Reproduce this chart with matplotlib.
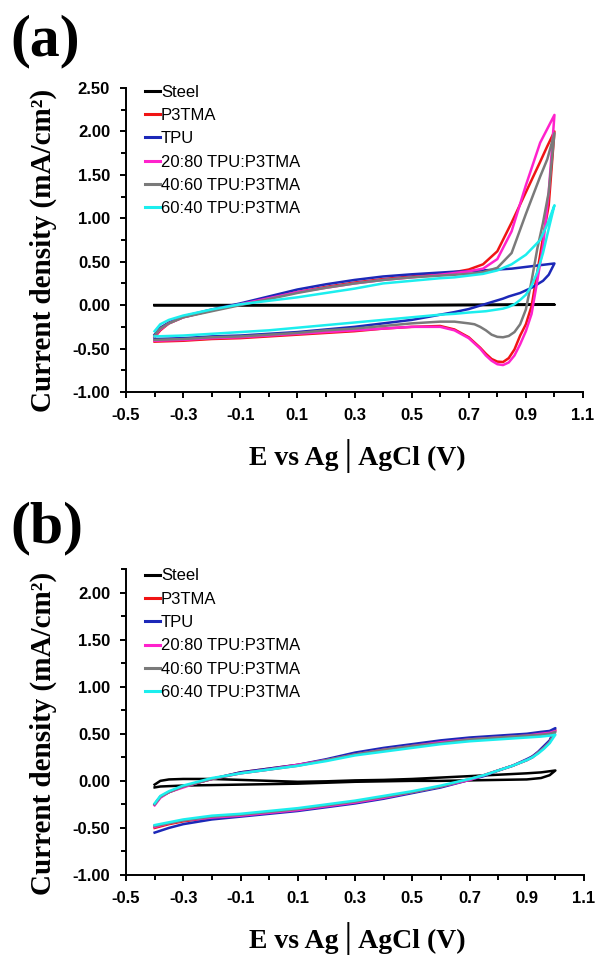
import matplotlib
matplotlib.use('Agg')
import matplotlib.pyplot as plt
from matplotlib.ticker import MultipleLocator, FormatStrFormatter

plt.rcParams['axes.unicode_minus'] = False

# ---------------- data ----------------
# panel (a): potential grid of the anodic (fwd) and cathodic (rev) sweeps, V
e_fwd_a = [-0.40, -0.38, -0.35, -0.30, -0.20, -0.10, 0.00, 0.10, 0.20, 0.30, 0.40,
           0.50, 0.60, 0.65, 0.70, 0.75, 0.80, 0.85, 0.90, 0.95, 0.975, 1.00]
e_rev_a = [1.00, 0.98, 0.96, 0.94, 0.92, 0.90, 0.88, 0.86, 0.84, 0.82, 0.80, 0.78,
           0.76, 0.74, 0.72, 0.70, 0.65, 0.60, 0.50, 0.40, 0.30, 0.20, 0.10, 0.00,
           -0.10, -0.20, -0.30, -0.40]

steel_e_a = [-0.40, 0.00, 0.50, 1.00, 0.50, 0.00, -0.40]
steel_j_a = [0.00, 0.00, 0.00, 0.005, 0.00, 0.00, 0.00]

p3tma_fwd_a = [-0.37, -0.29, -0.21, -0.14, -0.06, 0.01, 0.08, 0.15, 0.21, 0.26, 0.30,
               0.33, 0.36, 0.38, 0.41, 0.47, 0.62, 0.95, 1.30, 1.65, 1.83, 2.00]
p3tma_rev_a = [2.00, 1.15, 0.78, 0.38, -0.01, -0.22, -0.35, -0.51, -0.61, -0.655, -0.65,
               -0.62, -0.56, -0.49, -0.43, -0.37, -0.28, -0.24, -0.25, -0.27, -0.30,
               -0.32, -0.34, -0.36, -0.38, -0.39, -0.41, -0.42]

tpu_fwd_a = [-0.34, -0.26, -0.20, -0.13, -0.05, 0.02, 0.10, 0.18, 0.24, 0.29, 0.33,
             0.355, 0.375, 0.385, 0.39, 0.40, 0.41, 0.42, 0.44, 0.46, 0.47, 0.48]
tpu_rev_a = [0.48, 0.35, 0.28, 0.24, 0.20, 0.17, 0.14, 0.12, 0.10, 0.075, 0.055, 0.035,
             0.015, -0.005, -0.025, -0.045, -0.08, -0.11, -0.17, -0.21, -0.25, -0.28,
             -0.31, -0.33, -0.35, -0.36, -0.38, -0.39]

b2080_fwd_a = [-0.36, -0.28, -0.21, -0.14, -0.06, 0.01, 0.08, 0.15, 0.20, 0.25, 0.29,
               0.32, 0.35, 0.37, 0.39, 0.42, 0.53, 0.85, 1.38, 1.87, 2.03, 2.19]
b2080_rev_a = [2.19, 1.30, 0.68, 0.28, -0.10, -0.30, -0.45, -0.58, -0.66, -0.69, -0.68,
               -0.64, -0.58, -0.50, -0.44, -0.38, -0.29, -0.25, -0.25, -0.27, -0.29,
               -0.31, -0.33, -0.35, -0.37, -0.38, -0.40, -0.41]

b4060_fwd_a = [-0.35, -0.27, -0.21, -0.14, -0.07, 0.00, 0.07, 0.14, 0.20, 0.25, 0.29,
               0.32, 0.34, 0.35, 0.36, 0.38, 0.43, 0.60, 1.05, 1.48, 1.68, 1.98]
b4060_rev_a = [1.98, 1.30, 0.95, 0.65, 0.28, -0.05, -0.22, -0.31, -0.355, -0.37, -0.365,
               -0.34, -0.29, -0.25, -0.22, -0.21, -0.19, -0.19, -0.21, -0.24, -0.27,
               -0.29, -0.32, -0.34, -0.36, -0.37, -0.39, -0.40]

b6040_fwd_a = [-0.30, -0.22, -0.17, -0.12, -0.05, 0.01, 0.05, 0.09, 0.14, 0.19, 0.25,
               0.28, 0.31, 0.32, 0.34, 0.36, 0.40, 0.47, 0.58, 0.75, 0.93, 1.15]
b6040_rev_a = [1.15, 0.88, 0.60, 0.38, 0.22, 0.12, 0.06, 0.01, -0.02, -0.04, -0.05,
               -0.06, -0.07, -0.075, -0.08, -0.085, -0.10, -0.11, -0.14, -0.17, -0.20,
               -0.23, -0.26, -0.29, -0.31, -0.33, -0.35, -0.36]

# panel (b)
e_fwd_b = [-0.40, -0.38, -0.35, -0.30, -0.25, -0.20, -0.10, 0.00, 0.10, 0.20, 0.30,
           0.40, 0.50, 0.60, 0.70, 0.80, 0.90, 0.95, 0.98, 1.00]
e_rev_b = [1.00, 0.98, 0.96, 0.94, 0.92, 0.90, 0.85, 0.80, 0.75, 0.70, 0.60, 0.50,
           0.40, 0.30, 0.20, 0.10, 0.00, -0.10, -0.20, -0.30, -0.35, -0.40]

steel_e_b = [-0.40, -0.38, -0.35, -0.30, -0.20, -0.10, 0.00, 0.10, 0.20, 0.30, 0.40,
             0.50, 0.60, 0.70, 0.80, 0.90, 0.95, 1.00, 0.98, 0.95, 0.90, 0.80, 0.70,
             0.60, 0.50, 0.40, 0.30, 0.20, 0.10, 0.00, -0.10, -0.20, -0.30, -0.38, -0.40]
steel_j_b = [-0.04, 0.00, 0.015, 0.02, 0.02, 0.01, 0.00, -0.01, -0.005, 0.005, 0.01,
             0.02, 0.035, 0.05, 0.065, 0.08, 0.09, 0.11, 0.06, 0.03, 0.015, 0.01, 0.005,
             0.00, 0.00, -0.005, -0.01, -0.02, -0.03, -0.035, -0.04, -0.045, -0.05,
             -0.06, -0.07]

p3tma_fwd_b = [-0.25, -0.17, -0.12, -0.06, -0.02, 0.02, 0.09, 0.13, 0.17, 0.22, 0.29,
               0.34, 0.38, 0.42, 0.45, 0.47, 0.49, 0.51, 0.52, 0.54]
p3tma_rev_b = [0.54, 0.42, 0.36, 0.30, 0.26, 0.22, 0.16, 0.11, 0.06, 0.01, -0.06,
               -0.12, -0.18, -0.23, -0.27, -0.31, -0.34, -0.37, -0.39, -0.43, -0.46, -0.50]

tpu_fwd_b = [-0.25, -0.17, -0.12, -0.06, -0.02, 0.02, 0.09, 0.13, 0.17, 0.23, 0.30,
             0.35, 0.39, 0.43, 0.46, 0.48, 0.50, 0.52, 0.53, 0.56]
tpu_rev_b = [0.56, 0.43, 0.37, 0.31, 0.26, 0.23, 0.16, 0.11, 0.05, 0.01, -0.07,
             -0.13, -0.19, -0.24, -0.28, -0.32, -0.35, -0.38, -0.41, -0.46, -0.50, -0.55]

b2080_fwd_b = [-0.26, -0.18, -0.12, -0.07, -0.02, 0.02, 0.08, 0.12, 0.17, 0.22, 0.28,
               0.33, 0.37, 0.41, 0.44, 0.46, 0.48, 0.50, 0.51, 0.53]
b2080_rev_b = [0.53, 0.41, 0.35, 0.30, 0.25, 0.22, 0.16, 0.11, 0.06, 0.01, -0.06,
               -0.12, -0.18, -0.23, -0.27, -0.31, -0.34, -0.37, -0.39, -0.42, -0.45, -0.49]

b4060_fwd_b = [-0.25, -0.17, -0.12, -0.06, -0.02, 0.02, 0.08, 0.12, 0.16, 0.22, 0.28,
               0.33, 0.37, 0.40, 0.44, 0.46, 0.48, 0.49, 0.50, 0.52]
b4060_rev_b = [0.52, 0.41, 0.35, 0.30, 0.25, 0.22, 0.16, 0.11, 0.06, 0.02, -0.06,
               -0.12, -0.17, -0.22, -0.26, -0.30, -0.33, -0.36, -0.38, -0.42, -0.45, -0.48]

b6040_fwd_b = [-0.24, -0.16, -0.11, -0.05, -0.01, 0.03, 0.08, 0.12, 0.16, 0.21, 0.27,
               0.31, 0.35, 0.39, 0.42, 0.44, 0.46, 0.47, 0.48, 0.49]
b6040_rev_b = [0.49, 0.40, 0.34, 0.29, 0.25, 0.22, 0.16, 0.11, 0.06, 0.02, -0.05,
               -0.11, -0.16, -0.21, -0.25, -0.29, -0.32, -0.35, -0.37, -0.41, -0.44, -0.47]

labels = ['Steel', 'P3TMA', 'TPU', '20:80 TPU:P3TMA', '40:60 TPU:P3TMA', '60:40 TPU:P3TMA']
colors = ['#000000', '#f01414', '#1c28b8', '#ff22cc', '#7a7a7a', '#1ceeee']

x_ticks = [-0.5, -0.3, -0.1, 0.1, 0.3, 0.5, 0.7, 0.9, 1.1]

# ---------------- figure ----------------
W, H = 598, 955
fig = plt.figure(figsize=(W / 100, H / 100), dpi=100)

ax_a = fig.add_axes([126 / W, 1 - 392 / H, 457 / W, 304 / H])
ax_b = fig.add_axes([126 / W, 1 - 875 / H, 458 / W, 306 / H])


def draw_panel(ax, steel_e, steel_j, e_fwd, e_rev, curves, ymax, leg_top):
    ax.plot(steel_e, steel_j, color=colors[0], lw=1.8, label=labels[0])
    for (fwd, rev), c, lab in zip(curves, colors[1:], labels[1:]):
        ax.plot(e_fwd + e_rev, fwd + rev, color=c, lw=1.8, label=lab)

    ax.set_xlim(-0.5, 1.1)
    ax.set_ylim(-1.0, ymax)
    ax.set_xticks(x_ticks)
    ax.xaxis.set_minor_locator(MultipleLocator(0.1))
    ax.yaxis.set_major_locator(MultipleLocator(0.5))
    ax.yaxis.set_minor_locator(MultipleLocator(0.25))
    ax.xaxis.set_major_formatter(FormatStrFormatter('%.1f'))
    ax.yaxis.set_major_formatter(FormatStrFormatter('%.2f'))

    for s in ['top', 'right']:
        ax.spines[s].set_visible(False)
    for s in ['left', 'bottom']:
        ax.spines[s].set_linewidth(1.4)
    ax.tick_params(which='major', direction='out', length=4.5, width=1.4, pad=7)
    ax.tick_params(which='minor', direction='out', length=3.5, width=1.4)
    for t in ax.get_xticklabels() + ax.get_yticklabels():
        t.set_fontfamily('Liberation Sans')
        t.set_fontweight('bold')
        t.set_fontsize(12)

    leg = ax.legend(loc='upper left', bbox_to_anchor=(19 / 457, leg_top), frameon=False,
                    prop={'family': 'Liberation Sans', 'size': 12}, borderpad=0,
                    borderaxespad=0, handlelength=0.9, handletextpad=0.05,
                    labelspacing=0.5)
    for ln in leg.get_lines():
        ln.set_linewidth(2.2)


draw_panel(ax_a, steel_e_a, steel_j_a, e_fwd_a, e_rev_a,
           [(p3tma_fwd_a, p3tma_rev_a), (tpu_fwd_a, tpu_rev_a),
            (b2080_fwd_a, b2080_rev_a), (b4060_fwd_a, b4060_rev_a),
            (b6040_fwd_a, b6040_rev_a)], 2.5, 1.011)
draw_panel(ax_b, steel_e_b, steel_j_b, e_fwd_b, e_rev_b,
           [(p3tma_fwd_b, p3tma_rev_b), (tpu_fwd_b, tpu_rev_b),
            (b2080_fwd_b, b2080_rev_b), (b4060_fwd_b, b4060_rev_b),
            (b6040_fwd_b, b6040_rev_b)], 2.25, 1.002)

serif = ['Liberation Serif', 'DejaVu Serif']
for tag, base in [('(a)', 55), ('(b)', 542)]:
    fig.text(10 / W, 1 - base / H, tag, family=serif, weight='bold', fontsize=43,
             ha='left', va='baseline')

for yc in [250, 733]:
    fig.text(43 / W, 1 - yc / H, 'Current density (mA/cm²)', family=serif,
             weight='bold', fontsize=21, rotation=90, ha='center', va='center')

for base in [465, 948]:
    fig.text(357 / W, 1 - base / H, 'E vs Ag\u2502AgCl (V)',
             family=['Liberation Serif', 'DejaVu Sans'], weight='bold', fontsize=20,
             ha='center', va='baseline')

fig.savefig('out.png', dpi=100)
